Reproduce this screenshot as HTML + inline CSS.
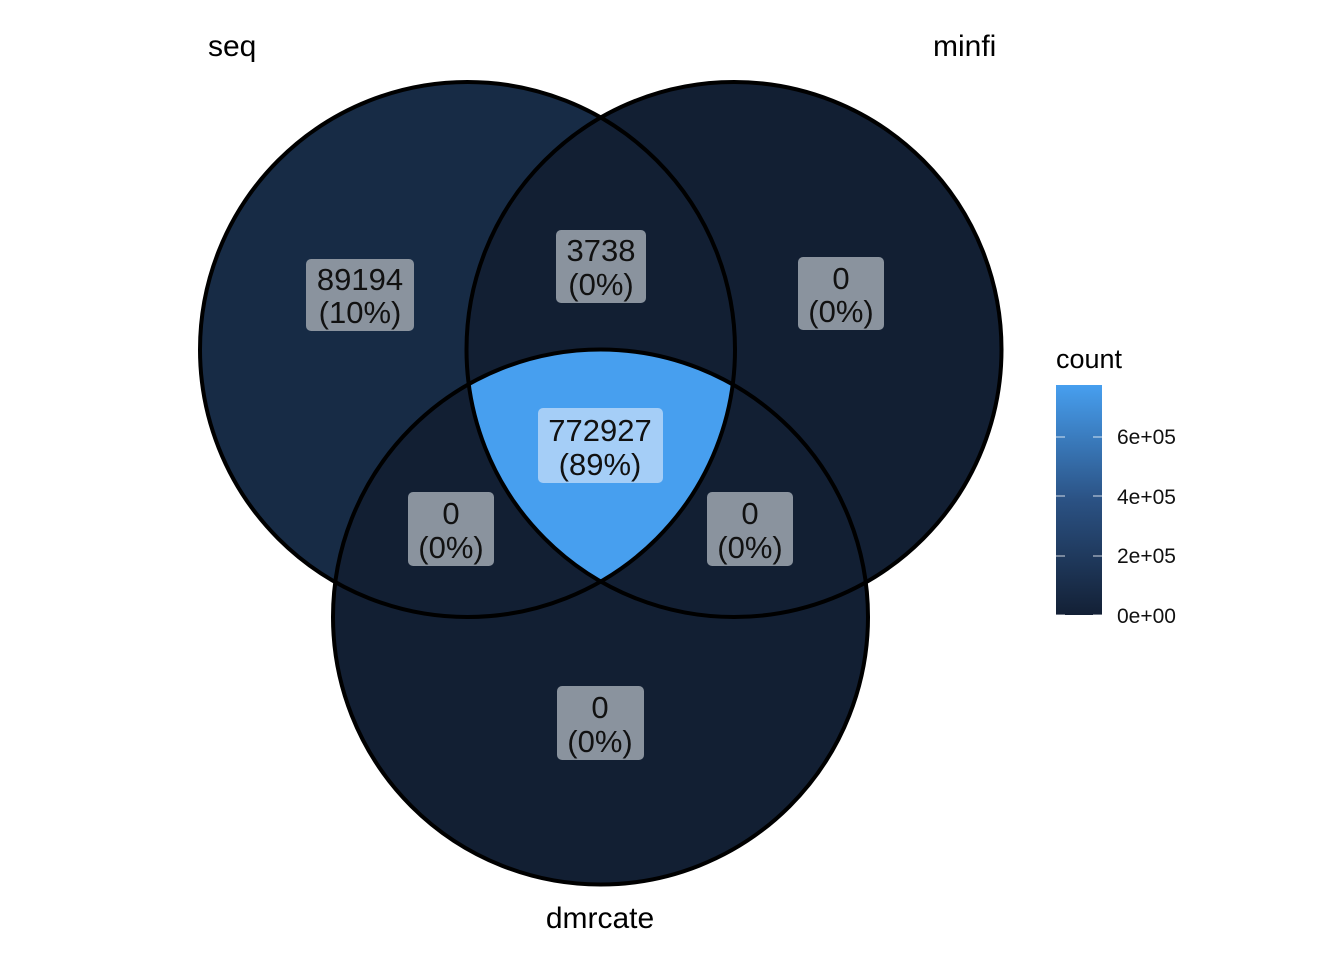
<!DOCTYPE html>
<html><head><meta charset="utf-8"><style>
html,body{margin:0;padding:0;background:#fff;}
svg{display:block;font-family:"Liberation Sans",sans-serif;}
</style></head><body>
<svg width="1344" height="960" viewBox="0 0 1344 960" xmlns="http://www.w3.org/2000/svg">
<defs>
<clipPath id="cs"><circle cx="467.5" cy="349.5" r="267.5"/></clipPath>
<clipPath id="cm"><circle cx="734" cy="349.5" r="267.5"/></clipPath>
<linearGradient id="lg" x1="0" y1="1" x2="0" y2="0">
<stop offset="0" stop-color="#132035"/><stop offset="0.5" stop-color="#2b5284"/><stop offset="1" stop-color="#479fef"/>
</linearGradient>
</defs>
<circle cx="467.5" cy="349.5" r="267.5" fill="#172b45"/>
<circle cx="734" cy="349.5" r="267.5" fill="#121f33"/>
<circle cx="600.5" cy="617" r="267.5" fill="#121f33"/>
<g clip-path="url(#cs)"><circle cx="734" cy="349.5" r="267.5" fill="#121f33"/></g>
<g clip-path="url(#cs)"><g clip-path="url(#cm)"><circle cx="600.5" cy="617" r="267.5" fill="#479fef"/></g></g>
<g fill="none" stroke="#000" stroke-width="4">
<circle cx="467.5" cy="349.5" r="267.5"/>
<circle cx="734" cy="349.5" r="267.5"/>
<circle cx="600.5" cy="617" r="267.5"/>
</g>
<g fill="#8a939e">
<rect x="306" y="259" width="108" height="72" rx="5"/>
<rect x="556" y="230" width="90" height="73" rx="5"/>
<rect x="798" y="257" width="86" height="73" rx="5"/>
<rect x="408" y="492" width="86" height="74" rx="5"/>
<rect x="707" y="492" width="86" height="74" rx="5"/>
<rect x="557" y="686" width="87" height="74" rx="5"/>
<rect x="538" y="408" width="125" height="75" rx="5" fill="#a5cef7"/>
</g>
<g font-size="31" text-anchor="middle" fill="#111">
<text x="360" y="290">89194</text><text x="360" y="323">(10%)</text>
<text x="601" y="261">3738</text><text x="601" y="295">(0%)</text>
<text x="841" y="289">0</text><text x="841" y="322">(0%)</text>
<text x="451" y="524">0</text><text x="451" y="558">(0%)</text>
<text x="750" y="524">0</text><text x="750" y="558">(0%)</text>
<text x="600" y="718">0</text><text x="600" y="752">(0%)</text>
<text x="600" y="441">772927</text><text x="600" y="475">(89%)</text>
</g>
<g font-size="30" fill="#000">
<text x="208" y="56">seq</text>
<text x="933" y="56">minfi</text>
<text x="600" y="928" text-anchor="middle">dmrcate</text>
<text x="1056" y="368" font-size="27">count</text>
</g>
<rect x="1056" y="385" width="46" height="230" fill="url(#lg)"/>
<g stroke="#fff" stroke-width="1" stroke-opacity="0.8">
<line x1="1056" y1="437" x2="1065" y2="437"/><line x1="1093" y1="437" x2="1102" y2="437"/>
<line x1="1056" y1="496" x2="1065" y2="496"/><line x1="1093" y1="496" x2="1102" y2="496"/>
<line x1="1056" y1="556" x2="1065" y2="556"/><line x1="1093" y1="556" x2="1102" y2="556"/>
<line x1="1056" y1="615" x2="1065" y2="615"/><line x1="1093" y1="615" x2="1102" y2="615"/>
</g>
<g font-size="21" fill="#111">
<text x="1117" y="444">6e+05</text>
<text x="1117" y="504">4e+05</text>
<text x="1117" y="563">2e+05</text>
<text x="1117" y="623">0e+00</text>
</g>
</svg>
</body></html>
